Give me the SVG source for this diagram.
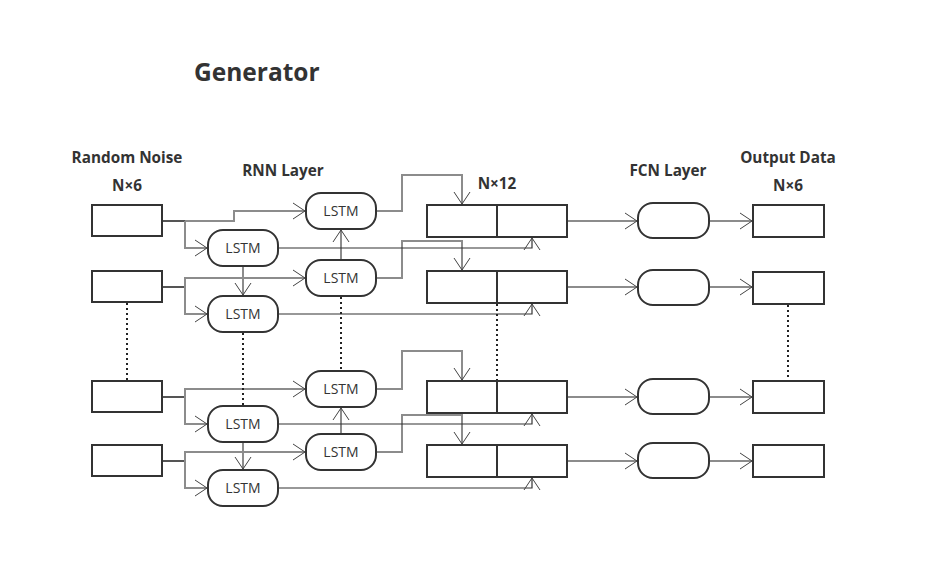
<svg xmlns="http://www.w3.org/2000/svg" width="931" height="568" viewBox="0 0 931 568">
<defs>
<style>
.t{font-family:"Open Sans","Noto Sans","Liberation Sans",sans-serif;font-weight:bold;fill:#333;font-size:15.3px;text-anchor:middle}
.lbl{font-family:"Open Sans","Noto Sans","Liberation Sans",sans-serif;fill:#333;font-size:14px;text-anchor:middle}
.box{fill:#fff;stroke:#333;stroke-width:2}
.g{fill:none;stroke:#8c8c8c;stroke-width:2}
.s{fill:none;stroke:#555;stroke-width:2}
.d{fill:none;stroke:#333;stroke-width:1.2}
.dot{fill:none;stroke:#222;stroke-width:2;stroke-dasharray:2 3}
</style>
<marker id="a" markerUnits="userSpaceOnUse" markerWidth="30" markerHeight="30" refX="15" refY="15" orient="auto" viewBox="0 0 30 30">
<path d="M3,7 L15,15 L3,23" fill="none" stroke="#444" stroke-width="1"/>
</marker>
</defs>
<rect width="931" height="568" fill="#fff"/>
<text x="194" y="81" class="t" style="text-anchor:start;font-size:24.5px">Generator</text>
<text x="127" y="163" class="t">Random Noise</text>
<text x="127" y="191" class="t">N×6</text>
<text x="283" y="176" class="t">RNN Layer</text>
<text x="497" y="189" class="t">N×12</text>
<text x="668" y="176" class="t">FCN Layer</text>
<text x="788" y="163" class="t">Output Data</text>
<text x="788" y="191" class="t">N×6</text>

<g id="connectors">
<path class="s" d="M162,221 H185"/>
<path class="g" d="M185,221 H234 V211 H305" marker-end="url(#a)"/>
<path class="g" d="M185,221 V248 H207" marker-end="url(#a)"/>
<path class="s" d="M162,287 H185"/>
<path class="g" d="M185,287 V278 H305" marker-end="url(#a)"/>
<path class="g" d="M185,287 V314 H207" marker-end="url(#a)"/>
<path class="s" d="M162,397 H185"/>
<path class="g" d="M185,397 V389 H305" marker-end="url(#a)"/>
<path class="g" d="M185,397 V424 H207" marker-end="url(#a)"/>
<path class="s" d="M162,461 H185"/>
<path class="g" d="M185,461 V452 H305" marker-end="url(#a)"/>
<path class="g" d="M185,461 V488 H207" marker-end="url(#a)"/>

<path class="g" d="M243,266 V295" marker-end="url(#a)"/>
<path class="g" d="M341,260 V230" marker-end="url(#a)"/>
<path class="g" d="M243,442 V469" marker-end="url(#a)"/>
<path class="g" d="M341,434 V408" marker-end="url(#a)"/>

<path class="g" d="M376,211 H402 V175 H462 V204" marker-end="url(#a)"/>
<path class="g" d="M376,278 H402 V241 H462 V270" marker-end="url(#a)"/>
<path class="g" d="M376,389 H402 V351 H462 V380" marker-end="url(#a)"/>
<path class="g" d="M376,452 H402 V415 H462 V444" marker-end="url(#a)"/>

<path class="d" d="M278,248 H532 V238" marker-end="url(#a)"/>
<path class="d" d="M278,314 H532 V304" marker-end="url(#a)"/>
<path class="d" d="M278,424 H532 V414" marker-end="url(#a)"/>
<path class="d" d="M278,488 H532 V478" marker-end="url(#a)"/>

<path class="g" d="M567,221 H637" marker-end="url(#a)"/>
<path class="g" d="M709,221 H752" marker-end="url(#a)"/>
<path class="g" d="M567,287 H637" marker-end="url(#a)"/>
<path class="g" d="M709,287 H752" marker-end="url(#a)"/>
<path class="g" d="M567,397 H637" marker-end="url(#a)"/>
<path class="g" d="M709,397 H752" marker-end="url(#a)"/>
<path class="g" d="M567,461 H637" marker-end="url(#a)"/>
<path class="g" d="M709,461 H752" marker-end="url(#a)"/>

<path class="dot" d="M127,303 V380"/>
<path class="dot" d="M243,333 V405"/>
<path class="dot" d="M341,297 V370"/>
<path class="dot" d="M497,304 V380"/>
<path class="dot" d="M788,305 V380"/>
</g>

<g id="in1"><rect class="box" x="92" y="205" width="70" height="31"/></g>
<g id="in2"><rect class="box" x="92" y="271" width="70" height="31"/></g>
<g id="in3"><rect class="box" x="92" y="381" width="70" height="31"/></g>
<g id="in4"><rect class="box" x="92" y="445" width="70" height="31"/></g>

<g id="u1"><rect class="box" x="306" y="193" width="70" height="36" rx="15"/><text class="lbl" x="341" y="216">LSTM</text></g>
<g id="l1"><rect class="box" x="208" y="230" width="70" height="36" rx="15"/><text class="lbl" x="243" y="253">LSTM</text></g>
<g id="u2"><rect class="box" x="306" y="260" width="70" height="36" rx="15"/><text class="lbl" x="341" y="283">LSTM</text></g>
<g id="l2"><rect class="box" x="208" y="296" width="70" height="36" rx="15"/><text class="lbl" x="243" y="319">LSTM</text></g>
<g id="u3"><rect class="box" x="306" y="371" width="70" height="36" rx="15"/><text class="lbl" x="341" y="394">LSTM</text></g>
<g id="l3"><rect class="box" x="208" y="406" width="70" height="36" rx="15"/><text class="lbl" x="243" y="429">LSTM</text></g>
<g id="u4"><rect class="box" x="306" y="434" width="70" height="36" rx="15"/><text class="lbl" x="341" y="457">LSTM</text></g>
<g id="l4"><rect class="box" x="208" y="470" width="70" height="36" rx="15"/><text class="lbl" x="243" y="493">LSTM</text></g>

<g id="c1"><rect class="box" x="427" y="205" width="140" height="32"/><line x1="497" y1="205" x2="497" y2="237" stroke="#333" stroke-width="2"/></g>
<g id="c2"><rect class="box" x="427" y="271" width="140" height="32"/><line x1="497" y1="271" x2="497" y2="303" stroke="#333" stroke-width="2"/></g>
<g id="c3"><rect class="box" x="427" y="381" width="140" height="32"/><line x1="497" y1="381" x2="497" y2="413" stroke="#333" stroke-width="2"/></g>
<g id="c4"><rect class="box" x="427" y="445" width="140" height="32"/><line x1="497" y1="445" x2="497" y2="477" stroke="#333" stroke-width="2"/></g>

<g id="f1"><rect class="box" x="638" y="203" width="71" height="35" rx="15"/></g>
<g id="f2"><rect class="box" x="638" y="270" width="71" height="35" rx="15"/></g>
<g id="f3"><rect class="box" x="638" y="379" width="71" height="35" rx="15"/></g>
<g id="f4"><rect class="box" x="638" y="443" width="71" height="35" rx="15"/></g>

<g id="o1"><rect class="box" x="753" y="205" width="71" height="32"/></g>
<g id="o2"><rect class="box" x="753" y="272" width="71" height="32"/></g>
<g id="o3"><rect class="box" x="753" y="381" width="71" height="32"/></g>
<g id="o4"><rect class="box" x="753" y="445" width="71" height="32"/></g>
</svg>
